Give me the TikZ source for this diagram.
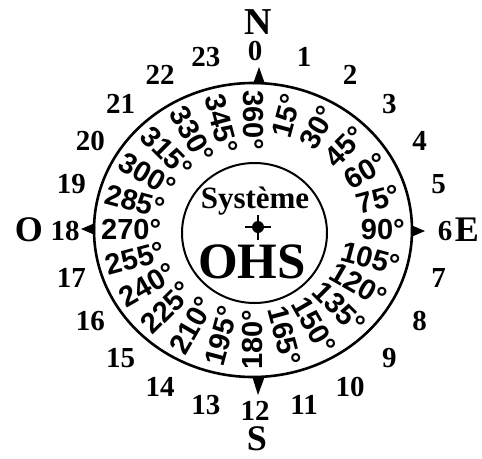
\documentclass[tikz,border=0pt]{standalone}
\usepackage{fontspec}
\setmainfont{Liberation Serif}
\newfontfamily\degfont{Liberation Sans}
\usetikzlibrary{shapes.geometric}
\begin{document}
\begin{tikzpicture}[x=1pt,y=-1pt,
  hour/.style={font=\fontsize{29}{29}\selectfont\bfseries, inner sep=0pt},
  deg/.style={font=\degfont\fontsize{29}{29}\selectfont\bfseries, inner sep=0pt},
  cardinal/.style={font=\fontsize{36}{36}\selectfont\bfseries, inner sep=0pt},
  ring/.style={draw, ellipse, inner sep=0pt},
  tip/.style={fill=black}]
\useasboundingbox (0,0) rectangle (482,458);
% rings
\node[ring, line width=2.6pt, minimum width=318pt, minimum height=294pt] (outer) at (253,230) {};
\node[ring, line width=2pt, minimum width=145pt, minimum height=140pt] (inner) at (254.5,233) {};
% compass arrow tips
\fill[tip] (253,84) -- (265,84) -- (259,67) -- cycle;
\fill[tip] (252,376) -- (265,376) -- (258,395) -- cycle;
\fill[tip] (411,225) -- (411,237) -- (425,231) -- cycle;
\fill[tip] (95,223) -- (95,235) -- (81,229) -- cycle;
% degree labels
\foreach \b in {15,30,...,165} {
  \node[deg, rotate=90-\b, anchor=east] (d\b) at ({253+152*sin(\b)},{230-140*cos(\b)}) {\b°};
}
\foreach \b in {180,195,...,360} {
  \node[deg, rotate=270-\b, anchor=west] (d\b) at ({253+152*sin(\b)},{230-140*cos(\b)}) {\b°};
}
% hour numbers
\foreach \h in {0,...,23} {
  \node[hour] (h\h) at ({255+190*sin(15*\h)},{231-180*cos(15*\h)}) {\h};
}
% cardinal letters
\node[cardinal, font=\fontsize{38}{38}\selectfont\bfseries] (N) at (258,22) {N};
\node[cardinal] (E) at (467,230) {E};
\node[cardinal] (S) at (257,439) {S};
\node[cardinal] (O) at (29,230) {O};
% centre
\node[font=\fontsize{31}{31}\selectfont\bfseries, inner sep=0pt] (sys) at (255,201) {Système};
\node[font=\fontsize{51}{51}\selectfont\bfseries, inner sep=0pt] (ohs) at (252,262) {OHS};
\draw[line width=2.2pt] (245,227) -- (271,227);
\draw[line width=2.2pt] (258,215) -- (258,240);
\fill (258,227) circle (6);
\end{tikzpicture}
\end{document}
